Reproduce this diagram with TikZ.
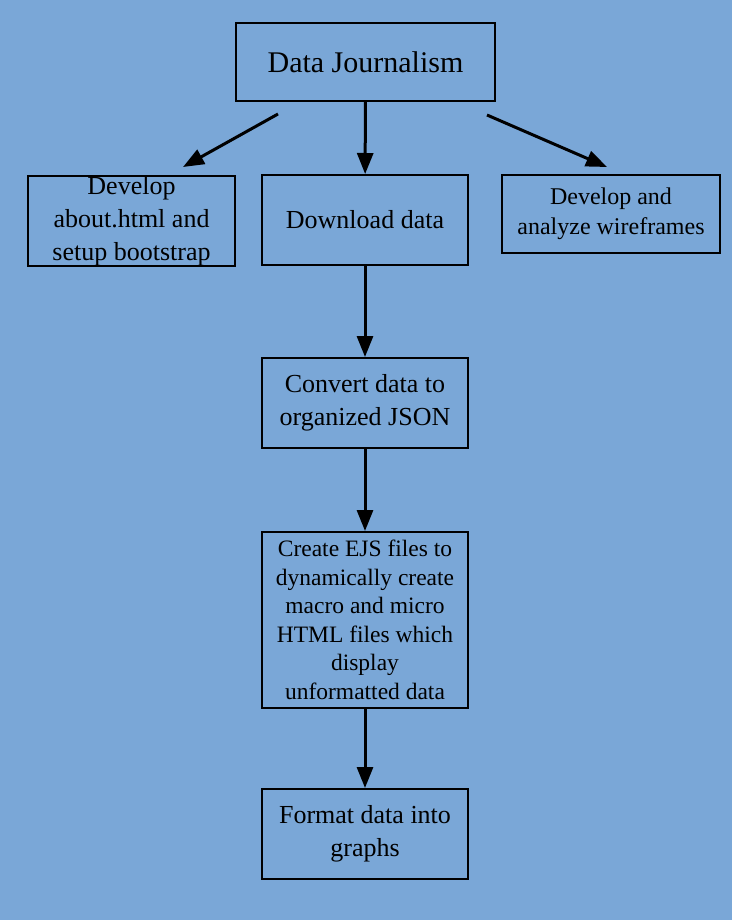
\documentclass[tikz,border=0pt]{standalone}
\usepackage{fontspec}
\setmainfont{Liberation Serif}
\usepackage{xcolor}
\usepackage{tikz}
\usetikzlibrary{arrows.meta,positioning}
\definecolor{bgblue}{HTML}{7AA7D7}
\tikzset{
  ar/.style={-{Triangle[length=21pt,width=16pt]},line width=3pt,black},
  box/.style={draw=black,line width=2pt,align=center,inner sep=0pt,font=\fontsize{26}{33}\selectfont}
}

\begin{document}
\begin{tikzpicture}[x=1pt,y=-1pt]
\fill[bgblue] (0,0) rectangle (732,920);
\useasboundingbox (0,0) rectangle (732,920);
\node[box,minimum width=259pt,minimum height=78pt,font=\fontsize{30}{36}\selectfont] (title) at (365.5,62) {Data Journalism};
\node[box,minimum width=207pt,minimum height=90pt] (about) at (131.5,221) {Develop\\about.html and\\setup bootstrap};
\node[box,minimum width=206pt,minimum height=90pt] (download) at (365,220) {Download data};
\node[box,minimum width=218pt,minimum height=78pt,font=\fontsize{24}{30}\selectfont] (wire) at (611,214) {Develop and\\analyze wireframes};
\node[box,minimum width=206pt,minimum height=90pt] (convert) at (365,403) {Convert data to\\organized JSON};
\node[box,minimum width=206pt,minimum height=176pt,font=\fontsize{23.5}{28.5}\selectfont] (ejs) at (365,620) {Create EJS files to\\dynamically create\\macro and micro\\HTML files which\\display\\unformatted data};
\node[box,minimum width=206pt,minimum height=90pt] (format) at (365,834) {Format data into\\graphs};
% arrows
\coordinate (tl) at (278,114);
\coordinate (al) at (183,167);
\coordinate (tr) at (487,115);
\coordinate (wr) at (607,167);
\draw[ar] (tl) -- (al);
\draw[ar] (tr) -- (wr);
\draw[ar] (title) -- (download);
\draw[ar] (download) -- (convert);
\draw[ar] (convert) -- (ejs);
\draw[ar] (ejs) -- (format);
\end{tikzpicture}
\end{document}
